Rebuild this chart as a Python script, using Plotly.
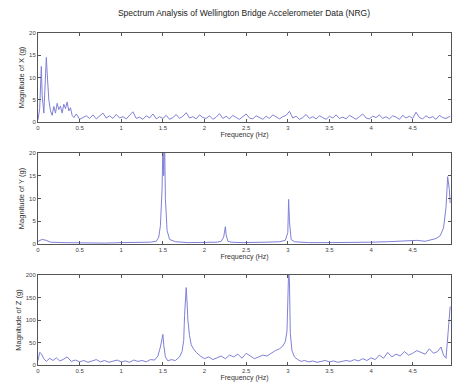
import plotly.graph_objects as go
from plotly.subplots import make_subplots

TITLE = "Spectrum Analysis of Wellington Bridge Accelerometer Data (NRG)"
X_TITLE = "Frequency (Hz)"
Y_TITLES = ["Magnitude of X (g)", "Magnitude of Y (g)", "Magnitude of Z (g)"]

# ---- X axis spectrum ----
freq_x = [0.00, 0.02, 0.04, 0.05, 0.07, 0.09, 0.10, 0.11, 0.13, 0.15, 0.17, 0.19, 0.21, 0.23,
          0.25, 0.27, 0.29, 0.31, 0.33, 0.35, 0.37, 0.39, 0.41, 0.43, 0.46, 0.50, 0.54, 0.58,
          0.62, 0.66, 0.70, 0.74, 0.78, 0.82, 0.86, 0.90, 0.94, 0.98, 1.02, 1.06, 1.10, 1.14,
          1.18, 1.22, 1.26, 1.30, 1.34, 1.38, 1.42, 1.46, 1.50, 1.54, 1.58, 1.62, 1.66, 1.70,
          1.74, 1.78, 1.82, 1.86, 1.90, 1.94, 1.98, 2.02, 2.06, 2.10, 2.14, 2.18, 2.22, 2.26,
          2.30, 2.34, 2.38, 2.42, 2.46, 2.50, 2.54, 2.58, 2.62, 2.66, 2.70, 2.74, 2.78, 2.82,
          2.86, 2.90, 2.94, 2.98, 3.02, 3.06, 3.10, 3.14, 3.18, 3.22, 3.26, 3.30, 3.34, 3.38,
          3.42, 3.46, 3.50, 3.54, 3.58, 3.62, 3.66, 3.70, 3.74, 3.78, 3.82, 3.86, 3.90, 3.94,
          3.98, 4.02, 4.06, 4.10, 4.14, 4.18, 4.22, 4.26, 4.30, 4.34, 4.38, 4.42, 4.46, 4.50,
          4.54, 4.58, 4.62, 4.66, 4.70, 4.74, 4.78, 4.82, 4.86, 4.90, 4.95]
mag_x = [0.5, 3.0, 12.5, 6.0, 2.0, 9.0, 14.5, 11.0, 5.0, 2.5, 1.5, 3.5, 2.0, 4.2,
         2.8, 3.6, 2.0, 4.0, 3.0, 4.5, 2.5, 3.2, 1.5, 1.0, 1.8, 0.6, 1.0, 1.4,
         0.8, 1.6, 0.7, 1.3, 2.0, 0.9, 1.4, 0.8, 1.7, 0.9, 1.2, 0.7, 1.5, 2.3,
         0.8, 1.1, 0.6, 1.4, 0.9, 1.8, 0.7, 1.2, 0.8, 1.5, 0.6, 1.0, 1.7, 0.8,
         1.3, 2.1, 0.9, 1.2, 0.7, 1.6, 1.0, 0.8, 1.4, 0.6, 1.1, 1.9, 0.8, 1.3,
         0.7, 1.5, 1.0, 0.6, 1.2, 1.8, 0.9, 0.7, 1.4, 1.0, 0.6, 1.3, 0.8, 1.6,
         1.1, 0.7, 1.2, 1.5, 2.4, 0.9, 1.3, 0.6, 1.0, 1.7, 0.8, 1.2, 0.7, 1.4,
         1.0, 0.6, 1.3, 0.9, 1.6, 0.8, 1.1, 0.7, 1.5, 1.0, 0.6, 1.2, 1.8, 0.9,
         0.7, 1.3, 1.0, 1.6, 0.8, 1.2, 0.7, 1.4, 1.1, 0.6, 1.5, 0.9, 1.3, 0.8,
         2.2, 1.0, 0.7, 1.4, 0.9, 1.2, 0.6, 1.5, 1.0, 0.8, 1.3]

# ---- Y axis spectrum ----
freq_y = [0.00, 0.05, 0.10, 0.15, 0.30, 0.50, 0.80, 1.00, 1.20, 1.35, 1.42, 1.45, 1.47, 1.49,
          1.50, 1.51, 1.52, 1.53, 1.55, 1.58, 1.65, 1.80, 2.00, 2.15, 2.20, 2.23, 2.25, 2.26,
          2.28, 2.32, 2.45, 2.60, 2.75, 2.90, 2.97, 3.00, 3.01, 3.02, 3.04, 3.08, 3.25, 3.50,
          3.75, 4.00, 4.20, 4.40, 4.55, 4.65, 4.72, 4.78, 4.83, 4.87, 4.90, 4.92, 4.94, 4.95]
mag_y = [0.6, 1.0, 0.8, 0.4, 0.3, 0.2, 0.2, 0.3, 0.3, 0.4, 0.6, 1.5, 4.0, 12.0,
         22.0, 15.0, 24.0, 10.0, 3.0, 1.0, 0.5, 0.3, 0.3, 0.4, 0.6, 1.5, 3.8, 2.0,
         0.6, 0.4, 0.3, 0.3, 0.4, 0.5, 0.8, 2.5, 9.8, 5.0, 1.0, 0.5, 0.3, 0.3,
         0.3, 0.4, 0.5, 0.6, 0.8, 0.6, 0.9, 1.2, 1.8, 3.5, 8.0, 14.8, 12.0, 9.0]

# ---- Z axis spectrum ----
freq_z = [0.00, 0.02, 0.04, 0.07, 0.10, 0.14, 0.18, 0.22, 0.26, 0.30, 0.35, 0.40, 0.45, 0.50,
          0.55, 0.60, 0.65, 0.70, 0.75, 0.80, 0.85, 0.90, 0.95, 1.00, 1.05, 1.10, 1.15, 1.20,
          1.25, 1.30, 1.35, 1.40, 1.44, 1.47, 1.49, 1.50, 1.51, 1.53, 1.56, 1.60, 1.65, 1.70,
          1.73, 1.75, 1.76, 1.77, 1.78, 1.79, 1.80, 1.82, 1.84, 1.87, 1.90, 1.95, 2.00, 2.05,
          2.10, 2.15, 2.20, 2.25, 2.30, 2.35, 2.40, 2.45, 2.50, 2.55, 2.60, 2.65, 2.70, 2.75,
          2.80, 2.85, 2.90, 2.94, 2.97, 2.99, 3.00, 3.01, 3.02, 3.03, 3.05, 3.08, 3.12, 3.16,
          3.20, 3.25, 3.30, 3.35, 3.40, 3.45, 3.50, 3.55, 3.60, 3.65, 3.70, 3.75, 3.80, 3.85,
          3.90, 3.95, 4.00, 4.05, 4.10, 4.15, 4.20, 4.25, 4.30, 4.35, 4.40, 4.45, 4.50, 4.55,
          4.60, 4.65, 4.70, 4.75, 4.80, 4.84, 4.87, 4.90, 4.92, 4.94, 4.95]
mag_z = [10, 28, 25, 14, 8, 15, 10, 16, 9, 12, 18, 8, 11, 7,
         10, 6, 9, 12, 7, 10, 6, 8, 11, 7, 9, 6, 11, 8,
         10, 7, 12, 11, 20, 40, 60, 68, 45, 18, 9, 12, 10, 18,
         30, 55, 110, 150, 172, 140, 100, 65, 45, 35, 28, 20, 14, 18,
         12, 16, 20, 14, 22, 18, 24, 15, 26, 20, 14, 18, 22, 20,
         26, 32, 36, 42, 52, 75, 140, 210, 185, 70, 32, 18, 12, 8,
         10, 7, 9, 6, 8, 10, 7, 9, 6, 8, 10, 8, 12, 9,
         14, 10, 16, 12, 22, 15, 28, 18, 24, 20, 30, 22, 26, 32,
         28, 24, 36, 26, 30, 40, 22, 15, 60, 110, 130]

LINE_COLOR = "#8080d8"
FONT = "Liberation Sans, Arial, sans-serif"

fig = make_subplots(rows=3, cols=1)
series = [(freq_x, mag_x), (freq_y, mag_y), (freq_z, mag_z)]
for i, (f, m) in enumerate(series, start=1):
    fig.add_trace(go.Scatter(x=f, y=m, mode="lines",
                             line=dict(color=LINE_COLOR, width=1),
                             showlegend=False, cliponaxis=True), row=i, col=1)

H = 383.0
y_domains = [(1 - 122 / H, 1 - 33 / H), (1 - 244 / H, 1 - 153 / H), (1 - 365 / H, 1 - 275 / H)]
y_ranges = [(0, 20), (0, 20), (0, 200)]
y_ticks = [[0, 5, 10, 15, 20], [0, 5, 10, 15, 20], [0, 50, 100, 150, 200]]
x_ticks = [0, 0.5, 1, 1.5, 2, 2.5, 3, 3.5, 4, 4.5]

axis_common = dict(showline=True, linecolor="#555555", linewidth=1, mirror="allticks",
                   ticks="inside", ticklen=3, tickcolor="#555555", showgrid=False,
                   zeroline=False, automargin=False,
                   tickfont=dict(size=6, color="#444", family=FONT))

for i in range(3):
    xa = "xaxis" if i == 0 else f"xaxis{i + 1}"
    ya = "yaxis" if i == 0 else f"yaxis{i + 1}"
    fig.layout[xa].update(domain=[38 / 453, 451 / 453], range=[0, 4.96],
                          tickvals=x_ticks, ticktext=[str(v) for v in x_ticks],
                          title=dict(text=X_TITLE, font=dict(size=7, color="#333", family=FONT),
                                     standoff=0),
                          **axis_common)
    fig.layout[ya].update(domain=list(y_domains[i]), range=list(y_ranges[i]),
                          tickvals=y_ticks[i],
                          title=dict(text=Y_TITLES[i], font=dict(size=7.5, color="#333", family=FONT),
                                     standoff=3),
                          **axis_common)

fig.update_layout(
    width=453, height=383,
    margin=dict(l=0, r=0, t=0, b=0, autoexpand=False),
    paper_bgcolor="white", plot_bgcolor="white",
    title=dict(text=TITLE, x=244 / 453, xanchor="center", y=1 - 13 / H, yanchor="middle",
               font=dict(size=8.5, color="#222", family=FONT)),
)

fig.write_html("out.html", config={"displayModeBar": False},
               post_script="document.body.style.margin='0';document.body.style.overflow='hidden';")
